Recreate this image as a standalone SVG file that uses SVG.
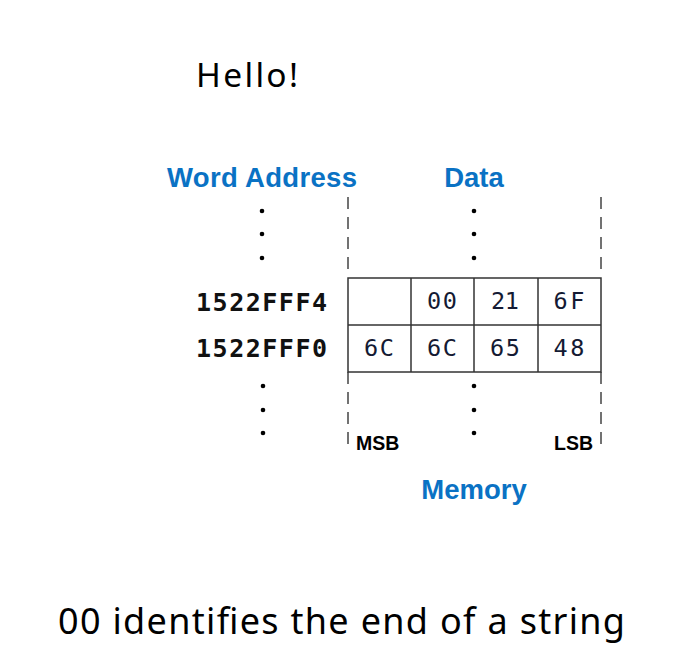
<svg xmlns="http://www.w3.org/2000/svg" width="674" height="661" viewBox="0 0 674 661">
<style>
.title{font-family:"Noto Sans","Open Sans",sans-serif;fill:#000}
.hdr{font-family:"Liberation Sans",Arial,sans-serif;font-weight:bold;fill:#0a72c4;font-size:27.5px}
.bit{font-family:"Liberation Sans",Arial,sans-serif;font-weight:bold;fill:#000;font-size:19.5px}
.addr{font-family:"DejaVu Sans Mono","Liberation Mono",monospace;font-weight:bold;fill:#111;font-size:25px}
.cell{font-family:"DejaVu Sans Mono","Liberation Mono",monospace;fill:#141a33;font-size:23.5px;text-anchor:middle}
.dash{stroke:#444;stroke-width:1.5;stroke-dasharray:12 8;fill:none}
.grid{stroke:#333;stroke-width:1.5;fill:none}
.dot{fill:#000}
</style>
<rect width="674" height="661" fill="#fff"/>
<text class="title" x="196" y="87" font-size="33.5" textLength="102">Hello!</text>
<g id="headers">
<text class="hdr" x="262" y="187" text-anchor="middle" textLength="190">Word Address</text>
<text class="hdr" x="474" y="187" text-anchor="middle">Data</text>
</g>
<g id="dots">
<circle class="dot" cx="262" cy="211" r="2.3"/>
<circle class="dot" cx="262" cy="234" r="2.3"/>
<circle class="dot" cx="262" cy="258" r="2.3"/>
<circle class="dot" cx="474" cy="211" r="2.3"/>
<circle class="dot" cx="474" cy="234" r="2.3"/>
<circle class="dot" cx="474" cy="258" r="2.3"/>
<circle class="dot" cx="263" cy="386" r="2.3"/>
<circle class="dot" cx="263" cy="410" r="2.3"/>
<circle class="dot" cx="263" cy="433" r="2.3"/>
<circle class="dot" cx="474" cy="386" r="2.3"/>
<circle class="dot" cx="474" cy="410" r="2.3"/>
<circle class="dot" cx="474" cy="433" r="2.3"/>
</g>
<g id="connectors">
<line class="dash" x1="348" y1="197" x2="348" y2="271"/>
<line class="dash" x1="601" y1="197" x2="601" y2="271"/>
<line class="dash" x1="348" y1="372" x2="348" y2="448"/>
<line class="dash" x1="601" y1="372" x2="601" y2="448"/>
</g>
<g id="memory-table">
<rect class="grid" x="348" y="278" width="253" height="94"/>
<line class="grid" x1="348" y1="325" x2="601" y2="325"/>
<line class="grid" x1="411" y1="278" x2="411" y2="372"/>
<line class="grid" x1="474" y1="278" x2="474" y2="372"/>
<line class="grid" x1="538" y1="278" x2="538" y2="372"/>
<text class="cell" x="442" y="309" textLength="30">00</text>
<text class="cell" x="505" y="309" textLength="28">21</text>
<text class="cell" x="569" y="309" textLength="31">6F</text>
<text class="cell" x="379" y="356" textLength="30">6C</text>
<text class="cell" x="442" y="356" textLength="30">6C</text>
<text class="cell" x="505" y="356" textLength="30">65</text>
<text class="cell" x="569" y="356" textLength="31">48</text>
</g>
<g id="addresses">
<text class="addr" x="196" y="311" textLength="131">1522FFF4</text>
<text class="addr" x="196" y="357" textLength="131">1522FFF0</text>
</g>
<g id="labels">
<text class="bit" x="356" y="450">MSB</text>
<text class="bit" x="593" y="450" text-anchor="end">LSB</text>
<text class="hdr" x="474" y="499" text-anchor="middle">Memory</text>
</g>
<text class="title" x="58" y="634" font-size="36" textLength="567">00 identifies the end of a string</text>
</svg>
